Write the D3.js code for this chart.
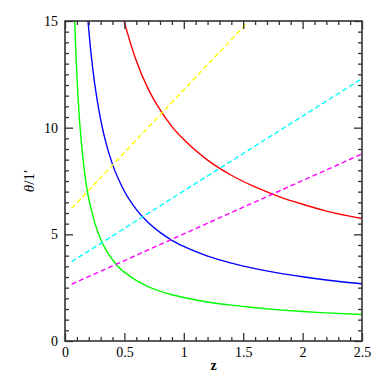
<!DOCTYPE html>
<html><head><meta charset="utf-8">
<script src="https://cdn.jsdelivr.net/npm/d3@7"></script>
<style>body{margin:0;background:#fff}svg{display:block}</style>
</head><body>
<script>
// data (smoothed by eye)
const zGrid  = [0.08,0.09,0.1,0.12,0.15,0.19,0.22,0.25,0.3,0.35,0.4,0.49,0.5,0.6,0.7,0.8,0.9,1.0,1.2,1.4,1.6,1.8,2.0,2.2,2.5];
const greenT = [15.3,13.7,12.46,10.53,8.62,6.95,6.18,5.55,4.78,4.22,3.81,3.27,3.23,2.84,2.55,2.34,2.17,2.04,1.83,1.68,1.56,1.46,1.38,1.32,1.24];
const blueZ  = [0.19,0.22,0.25,0.3,0.35,0.4,0.5,0.6,0.7,0.8,0.9,1.0,1.2,1.4,1.6,1.8,2.0,2.2,2.5];
const blueT  = [15.23,13.43,12.06,10.38,9.18,8.28,7.02,6.17,5.55,5.09,4.72,4.43,3.98,3.65,3.39,3.18,3.01,2.86,2.68];
const redZ   = [0.49,0.5,0.6,0.7,0.8,0.9,1.0,1.2,1.4,1.6,1.8,2.0,2.2,2.5];
const redT   = [15.16,14.95,13.14,11.82,10.84,10.05,9.44,8.48,7.77,7.22,6.77,6.41,6.09,5.74];
const yellowZ = [0.056,1.543];
const yellowT = [6.22,14.97];
const cyanZ = [0.056,2.5];
const cyanT = [3.72,12.3];
const magentaZ = [0.056,2.5];
const magentaT = [2.66,8.77];
const xMajor = [0,0.5,1,1.5,2,2.5];
const yMajor = [0,5,10,15];

const W=382,H=382;
const L=65,R=362,T=21,B=341;
const svg=d3.select("body").append("svg").attr("width",W).attr("height",H);
const x=d3.scaleLinear().domain([0,2.5]).range([L,R]);
const y=d3.scaleLinear().domain([0,15]).range([B,T]);

svg.append("defs").append("clipPath").attr("id","c").append("rect")
  .attr("x",L).attr("y",T).attr("width",R-L).attr("height",B-T);

const series=[
 {z:zGrid,t:greenT,c:"#00ff00",d:null,curve:d3.curveMonotoneX},
 {z:blueZ,t:blueT,c:"#0000ff",d:null,curve:d3.curveMonotoneX},
 {z:redZ,t:redT,c:"#ff0000",d:null,curve:d3.curveMonotoneX},
 {z:yellowZ,t:yellowT,c:"#ffff00",d:"5,3",curve:d3.curveLinear},
 {z:cyanZ,t:cyanT,c:"#00ffff",d:"5,3",curve:d3.curveLinear},
 {z:magentaZ,t:magentaT,c:"#ff00ff",d:"5,3",curve:d3.curveLinear}
];
const g=svg.append("g").attr("clip-path","url(#c)");
series.forEach(s=>{
  const pts=s.z.map((v,i)=>[v,s.t[i]]);
  const line=d3.line().x(d=>x(d[0])).y(d=>y(d[1])).curve(s.curve);
  g.append("path").attr("d",line(pts)).attr("fill","none")
   .attr("stroke",s.c).attr("stroke-width",1.4)
   .attr("stroke-dasharray",s.d);
});

const xMinor=d3.range(0,26).map(i=>i/10).filter(v=>!xMajor.some(m=>Math.abs(m-v)<1e-6));
const yMinor=d3.range(0,31).map(i=>i/2).filter(v=>!yMajor.some(m=>Math.abs(m-v)<1e-6));
const font='"Liberation Serif", "DejaVu Serif", serif';

function style(sel){
  sel.select(".domain").remove();
  sel.selectAll("line").attr("stroke","#333").attr("stroke-width",1.3);
  sel.selectAll("text").attr("font-family",font).attr("font-size",14).attr("fill","#000");
}
svg.append("g").attr("transform",`translate(0,${B})`)
  .call(d3.axisBottom(x).tickValues(xMajor).tickSize(-8).tickPadding(6).tickFormat(d3.format("")))
  .call(style);
svg.append("g").attr("transform",`translate(0,${B})`)
  .call(d3.axisBottom(x).tickValues(xMinor).tickSize(-4).tickFormat(""))
  .call(style);
svg.append("g").attr("transform",`translate(0,${T})`)
  .call(d3.axisTop(x).tickValues(xMajor).tickSize(-8).tickFormat(""))
  .call(style);
svg.append("g").attr("transform",`translate(0,${T})`)
  .call(d3.axisTop(x).tickValues(xMinor).tickSize(-4).tickFormat(""))
  .call(style);
svg.append("g").attr("transform",`translate(${L},0)`)
  .call(d3.axisLeft(y).tickValues(yMajor).tickSize(-8).tickPadding(7).tickFormat(d3.format("")))
  .call(style);
svg.append("g").attr("transform",`translate(${L},0)`)
  .call(d3.axisLeft(y).tickValues(yMinor).tickSize(-4).tickFormat(""))
  .call(style);
svg.append("g").attr("transform",`translate(${R},0)`)
  .call(d3.axisRight(y).tickValues(yMajor).tickSize(-8).tickFormat(""))
  .call(style);
svg.append("g").attr("transform",`translate(${R},0)`)
  .call(d3.axisRight(y).tickValues(yMinor).tickSize(-4).tickFormat(""))
  .call(style);

svg.append("rect").attr("x",L).attr("y",T).attr("width",R-L).attr("height",B-T)
  .attr("fill","none").attr("stroke","#333").attr("stroke-width",1.6);

svg.append("text").attr("x",(L+R)/2).attr("y",370).attr("text-anchor","middle")
  .attr("font-family",font).attr("font-size",14).attr("font-weight","bold").text("z");
const yl=svg.append("text").attr("transform",`translate(34,${(T+B)/2}) rotate(-90)`)
  .attr("text-anchor","middle").attr("font-family",font).attr("font-size",15);
yl.append("tspan").attr("font-style","italic").text("θ");
yl.append("tspan").text("/1′");
</script>
</body></html>
